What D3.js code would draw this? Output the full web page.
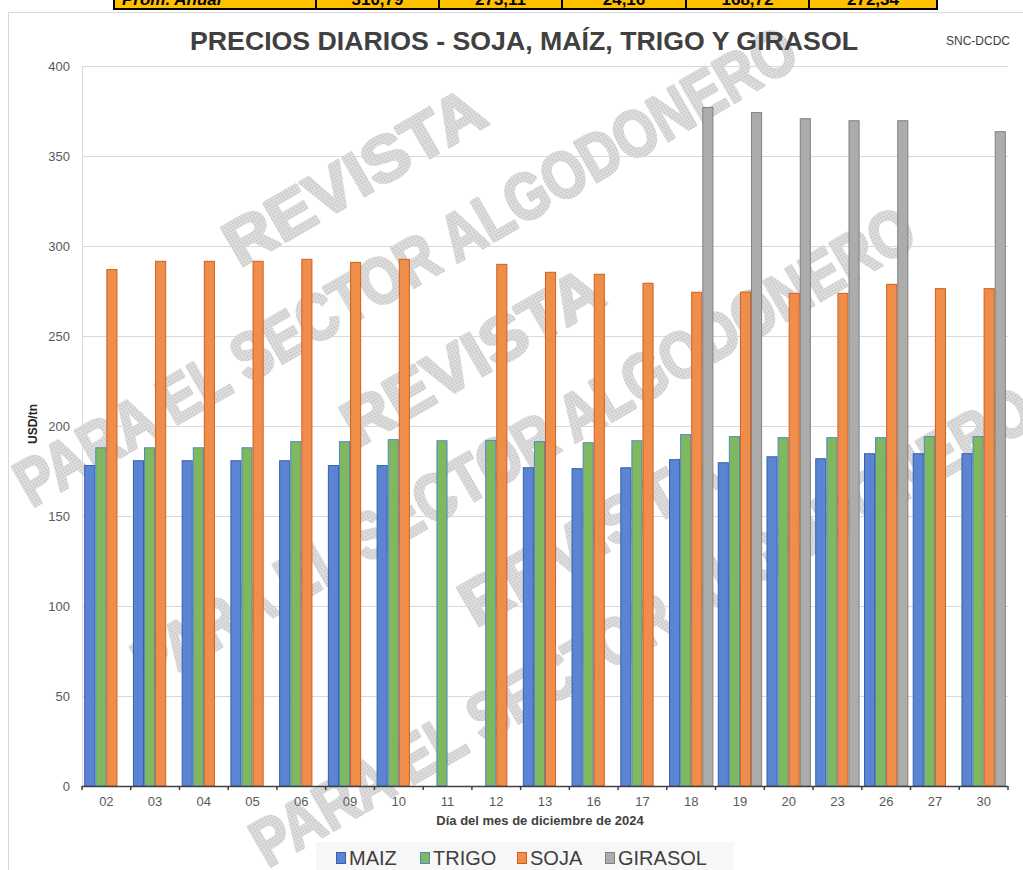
<!DOCTYPE html>
<html>
<head>
<meta charset="utf-8">
<script src="https://cdn.jsdelivr.net/npm/d3@7"></script>
<style>
  body { margin: 0; background: #ffffff; }
  svg { display: block; font-family: "Liberation Sans", Arial, sans-serif; }
</style>
</head>
<body>
<svg id="chart" width="1023" height="870"></svg>
<script>
/* ---------- data ---------- */
const days = ["02","03","04","05","06","09","10","11","12","13","16","17","18","19","20","23","26","27","30"];

const maiz    = [178.0, 180.7, 180.7, 180.7, 180.7, 178.0, 178.0, null, null, 176.8, 176.3, 176.8, 181.3, 179.6, 182.9, 181.8, 184.6, 184.6, 184.6];
const trigo   = [187.9, 187.9, 187.9, 187.9, 191.3, 191.3, 192.4, 191.8, 192.0, 191.3, 190.7, 191.8, 195.2, 194.1, 193.5, 193.5, 193.5, 194.1, 194.1];
const soja    = [286.9, 291.5, 291.5, 291.5, 292.6, 290.9, 292.6, null, 289.8, 285.4, 284.3, 279.3, 274.3, 274.4, 273.7, 273.7, 278.7, 276.3, 276.3];
const girasol = [null, null, null, null, null, null, null, null, null, null, null, null, 376.9, 374.1, 370.7, 369.6, 369.6, null, 363.5];

const seriesNames = ["MAIZ", "TRIGO", "SOJA", "GIRASOL"];
const yTicks = [0, 50, 100, 150, 200, 250, 300, 350, 400];

// cut-off table row above the chart (only its lower edge is in frame)
const tableLabel  = "Prom. Anual";
const tableValues = ["310,79", "273,11", "24,16", "168,72", "272,34"];

/* ---------- styles ---------- */
const FILL   = { MAIZ: "#5b84d2", TRIGO: "#7fb85e", SOJA: "#ef8d4b", GIRASOL: "#acacac" };
const STROKE = { MAIZ: "#3560b0", TRIGO: "#4d89c4", SOJA: "#d2601a", GIRASOL: "#808080" };

const svg = d3.select("#chart");

/* ---------- table strip at the top ---------- */
const cellEdges = [114, 316, 439, 562, 686, 809, 937];
const table = svg.append("g");
table.append("rect")
    .attr("x", cellEdges[0]).attr("y", -2)
    .attr("width", cellEdges[6] - cellEdges[0]).attr("height", 11)
    .attr("fill", "#ffc000").attr("stroke", "#000").attr("stroke-width", 2);
cellEdges.slice(1, 6).forEach(e => {
    table.append("line")
        .attr("x1", e).attr("x2", e).attr("y1", 0).attr("y2", 9)
        .attr("stroke", "#000").attr("stroke-width", 2);
});
table.append("text")
    .attr("x", cellEdges[0] + 8).attr("y", 5)
    .attr("font-size", 17).attr("font-weight", 700).attr("font-style", "italic")
    .text(tableLabel);
tableValues.forEach((v, i) => {
    table.append("text")
        .attr("x", (cellEdges[i + 1] + cellEdges[i + 2]) / 2).attr("y", 5)
        .attr("text-anchor", "middle")
        .attr("font-size", 17).attr("font-weight", 700)
        .text(v);
});

/* ---------- outer frame ---------- */
svg.append("line").attr("x1", 8).attr("x2", 1023).attr("y1", 12.5).attr("y2", 12.5)
    .attr("stroke", "#d9d9d9");
svg.append("line").attr("x1", 8.5).attr("x2", 8.5).attr("y1", 12).attr("y2", 870)
    .attr("stroke", "#d9d9d9");

/* ---------- scales ---------- */
const plot = { left: 82, right: 1008, top: 66, bottom: 786 };

const x0 = d3.scaleBand()
    .domain(days)
    .range([plot.left, plot.right])
    .paddingInner(0.09)
    .paddingOuter(0.045);

const x1 = d3.scaleBand()
    .domain(seriesNames)
    .range([0, x0.bandwidth()]);

const y = d3.scaleLinear()
    .domain([0, 400])
    .range([plot.bottom, plot.top]);

/* ---------- gridlines ---------- */
svg.append("g")
    .selectAll("line")
    .data(yTicks.slice(1))
    .join("line")
    .attr("x1", plot.left).attr("x2", plot.right)
    .attr("y1", d => Math.round(y(d)) + 0.5).attr("y2", d => Math.round(y(d)) + 0.5)
    .attr("stroke", "#d9d9d9");

svg.append("line")
    .attr("x1", plot.left + 0.5).attr("x2", plot.left + 0.5)
    .attr("y1", plot.top).attr("y2", plot.bottom)
    .attr("stroke", "#d9d9d9");

/* ---------- watermark ---------- */
const defs = svg.append("defs");
const pat = defs.append("pattern")
    .attr("id", "dots").attr("width", 3).attr("height", 3)
    .attr("patternUnits", "userSpaceOnUse");
pat.append("rect").attr("width", 3).attr("height", 3).attr("fill", "#e0e0e0");
pat.append("rect").attr("width", 1.5).attr("height", 1.5).attr("fill", "#bdbdbd");

const wmCenters = [[405, 265], [523, 445], [641, 625]];
const wm = svg.append("g");
wmCenters.forEach(c => {
    const g = wm.append("g")
        .attr("transform", `translate(${c[0]},${c[1]}) rotate(-30)`)
        .attr("fill", "url(#dots)")
        .attr("stroke", "url(#dots)")
        .attr("stroke-width", 3)
        .attr("stroke-linejoin", "round")
        .attr("font-weight", 700)
        .attr("text-anchor", "middle");
    g.append("text").attr("x", 0).attr("y", -80)
        .attr("font-size", 64).attr("textLength", 290).attr("lengthAdjust", "spacingAndGlyphs")
        .text("REVISTA");
    g.append("text").attr("x", 0).attr("y", 24)
        .attr("font-size", 66).attr("textLength", 890).attr("lengthAdjust", "spacingAndGlyphs")
        .text("PARA EL SECTOR ALGODONERO");
});

/* ---------- bars ---------- */
const seriesData = { MAIZ: maiz, TRIGO: trigo, SOJA: soja, GIRASOL: girasol };
const bars = svg.append("g");
seriesNames.forEach(name => {
    const vals = seriesData[name];
    bars.append("g")
        .selectAll("rect")
        .data(days.map((d, i) => ({ day: d, v: vals[i] })).filter(d => d.v !== null))
        .join("rect")
        .attr("x", d => x0(d.day) + x1(name) + 0.5)
        .attr("y", d => y(d.v))
        .attr("width", x1.bandwidth() - 1)
        .attr("height", d => y(0) - y(d.v))
        .attr("fill", FILL[name])
        .attr("stroke", STROKE[name])
        .attr("stroke-width", 1);
});

/* ---------- axes ---------- */
const yAxis = svg.append("g")
    .attr("transform", `translate(${plot.left - 12},0)`)
    .call(d3.axisLeft(y).tickValues(yTicks).tickSize(0).tickPadding(0));
yAxis.select(".domain").remove();
yAxis.selectAll("text")
    .attr("font-size", 13).attr("fill", "#595959")
    .attr("font-family", "Liberation Sans, Arial, sans-serif");

const xAxis = svg.append("g")
    .attr("transform", `translate(0,${plot.bottom})`)
    .call(d3.axisBottom(x0).tickSize(0).tickPadding(11));
xAxis.select(".domain").remove();
xAxis.selectAll("text")
    .attr("font-size", 13).attr("fill", "#595959")
    .attr("font-family", "Liberation Sans, Arial, sans-serif");

svg.append("line")
    .attr("x1", plot.left).attr("x2", plot.right)
    .attr("y1", plot.bottom + 0.5).attr("y2", plot.bottom + 0.5)
    .attr("stroke", "#404040").attr("stroke-width", 1.5);

const edges = days.map(d => x0(d) - (x0.step() - x0.bandwidth()) / 2).concat([plot.right]);
svg.append("g")
    .selectAll("line")
    .data(edges)
    .join("line")
    .attr("x1", d => d).attr("x2", d => d)
    .attr("y1", plot.bottom).attr("y2", plot.bottom + 4)
    .attr("stroke", "#404040").attr("stroke-width", 1.5);

/* ---------- titles ---------- */
svg.append("text")
    .attr("x", 524).attr("y", 50)
    .attr("text-anchor", "middle")
    .attr("font-size", 26).attr("font-weight", 700).attr("fill", "#404040")
    .attr("textLength", 668).attr("lengthAdjust", "spacingAndGlyphs")
    .text("PRECIOS DIARIOS - SOJA, MAÍZ, TRIGO Y GIRASOL");

svg.append("text")
    .attr("x", 1010).attr("y", 45)
    .attr("text-anchor", "end")
    .attr("font-size", 12).attr("fill", "#404040")
    .text("SNC-DCDC");

svg.append("text")
    .attr("transform", `translate(37,${(plot.top + plot.bottom) / 2 - 2}) rotate(-90)`)
    .attr("text-anchor", "middle")
    .attr("font-size", 12).attr("font-weight", 700).attr("fill", "#262626")
    .text("USD/tn");

svg.append("text")
    .attr("x", 540).attr("y", 825)
    .attr("text-anchor", "middle")
    .attr("font-size", 13).attr("font-weight", 700).attr("fill", "#404040")
    .text("Día del mes de diciembre de 2024");

/* ---------- legend ---------- */
const legend = svg.append("g");
legend.append("rect")
    .attr("x", 316).attr("y", 842).attr("width", 418).attr("height", 28)
    .attr("fill", "#f7f7f7");

const legendX = [336, 420, 517, 605];
seriesNames.forEach((name, i) => {
    legend.append("rect")
        .attr("x", legendX[i] + 0.5).attr("y", 852.5)
        .attr("width", 9).attr("height", 11)
        .attr("fill", FILL[name]).attr("stroke", STROKE[name]);
    legend.append("text")
        .attr("x", legendX[i] + 13).attr("y", 865)
        .attr("font-size", 20).attr("fill", "#404040")
        .text(name);
});
</script>
</body>
</html>
